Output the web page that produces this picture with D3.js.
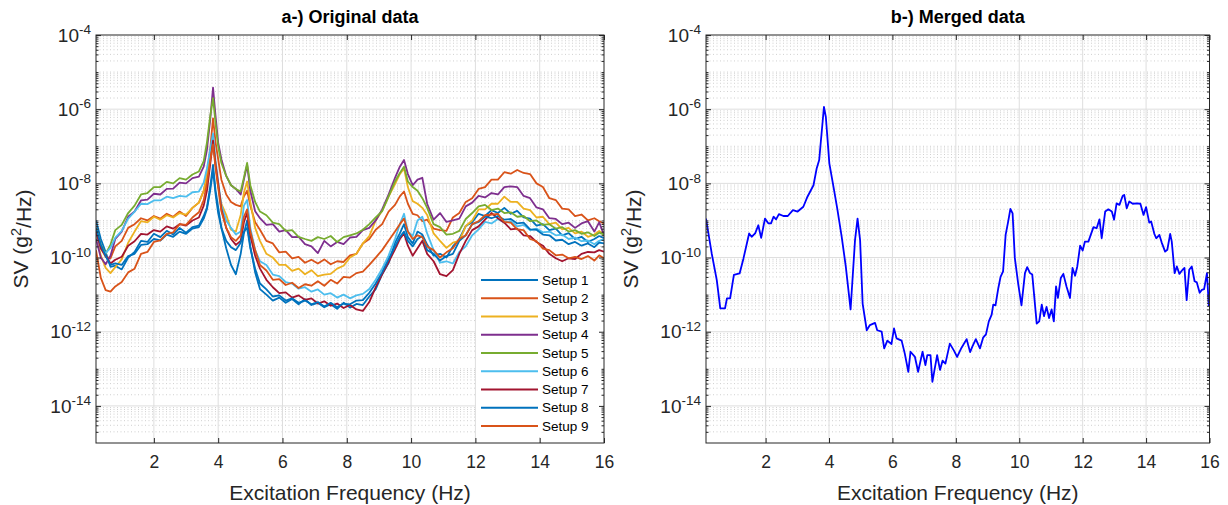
<!DOCTYPE html>
<html>
<head>
<meta charset="utf-8">
<script src="https://cdn.jsdelivr.net/npm/d3@7"></script>
<style>
  body { margin: 0; background: #fff; }
  svg { font-family: "Liberation Sans", Arial, Helvetica, sans-serif; }
  .grid-major { stroke: #dedede; stroke-width: 1; }
  .grid-minor { stroke: #c4c4c4; stroke-width: 0.8; stroke-dasharray: 1 2.5; }
  .ax path { display: none; }
  .ax line { stroke: #262626; }
  .ax text { fill: #262626; }
</style>
</head>
<body>
<svg id="chart" width="1228" height="505"></svg>
<script>
// frequency grid (Hz) shared by the nine setups
var freq = [0.2, 0.35, 0.5, 0.65, 0.8, 1.0, 1.2, 1.4, 1.6, 1.8,
            2.0, 2.2, 2.4, 2.6, 2.8, 3.0, 3.2, 3.4, 3.55, 3.65,
            3.75, 3.84, 3.92, 4.0, 4.1, 4.25, 4.4, 4.55, 4.7, 4.8,
            4.9, 5.0, 5.15, 5.3, 5.5, 5.7, 5.9, 6.1, 6.3, 6.5,
            6.7, 6.9, 7.1, 7.3, 7.5, 7.7, 7.9, 8.1, 8.3, 8.5,
            8.7, 8.9, 9.1, 9.3, 9.5, 9.65, 9.78, 9.9, 10.05, 10.2,
            10.35, 10.5, 10.7, 10.9, 11.1, 11.3, 11.5, 11.7, 11.9, 12.1,
            12.3, 12.5, 12.7, 12.9, 13.1, 13.3, 13.5, 13.7, 13.9, 14.1,
            14.3, 14.5, 14.7, 14.9, 15.1, 15.3, 15.5, 15.7, 15.85, 16.0];

// SV values as log10(g^2/Hz)
var setup1 = [-9.0, -9.5, -9.85, -10.25, -10.22, -10.32, -10.0, -9.85, -9.55, -9.58,
              -9.36, -9.45, -9.28, -9.38, -9.2, -9.33, -9.18, -9.14, -8.88, -8.65,
              -8.1, -7.5, -8.2, -8.65, -9.2, -9.75, -10.2, -10.45, -9.9, -9.35,
              -9.0, -9.7, -10.4, -10.85, -11.0, -11.16, -11.08, -11.22, -11.12, -11.26,
              -11.12, -11.28, -11.22, -11.34, -11.26, -11.38, -11.22, -11.35, -11.25, -11.28,
              -11.05, -10.85, -10.45, -10.15, -9.6, -9.35, -9.1, -9.45, -9.62, -9.3,
              -9.38, -9.65, -9.95, -9.9, -10.0, -9.7, -9.5, -9.15, -9.05, -8.82,
              -8.88, -8.72, -8.8, -8.66, -8.82, -8.74, -8.92, -8.95, -9.14, -9.1,
              -9.26, -9.22, -9.4, -9.34, -9.5, -9.44, -9.58, -9.5, -9.42, -9.48];
var setup2 = [-9.3, -9.75, -9.98, -10.02, -9.7, -9.55, -9.2, -9.1, -8.94, -9.0,
              -8.88, -8.95, -8.82, -8.9, -8.76, -8.88, -8.66, -8.52, -8.2, -7.8,
              -7.1, -6.25, -6.9, -7.35, -7.9, -8.3, -8.5, -8.58, -8.62, -8.35,
              -8.2, -8.6, -9.05, -9.25, -9.55, -9.62, -9.86, -9.84, -10.02, -9.98,
              -10.14, -10.06, -10.16, -10.05, -10.18, -10.1, -10.12, -9.94, -9.9, -9.62,
              -9.5, -9.25, -9.1, -8.76, -8.58, -8.35, -8.22, -8.55, -8.82, -8.86,
              -9.02, -8.98, -9.22, -9.26, -9.28, -8.92, -8.8, -8.5, -8.4, -8.15,
              -8.1, -7.9, -7.9, -7.7, -7.74, -7.64, -7.72, -7.75, -8.0, -8.1,
              -8.4, -8.45, -8.68, -8.7, -8.88, -8.84, -9.0, -8.94, -9.02, -9.08];
var setup3 = [-9.4, -9.95, -10.28, -10.42, -10.26, -10.05, -9.6, -9.3, -9.02, -9.05,
              -8.9, -8.98, -8.86, -8.92, -8.8, -8.84, -8.66, -8.52, -8.2, -7.8,
              -7.25, -6.8, -7.5, -8.1, -8.55, -8.85, -9.25, -9.3, -8.85, -8.25,
              -7.95, -8.5, -9.2, -9.55, -9.9, -10.0, -10.2, -10.2, -10.36, -10.3,
              -10.45, -10.34, -10.5, -10.46, -10.44, -10.3, -10.22, -10.0, -9.9, -9.62,
              -9.42, -9.0, -8.74, -8.36, -8.02, -7.75, -7.6, -8.1, -8.48, -8.55,
              -8.66, -8.85, -9.35, -9.55, -9.74, -9.6, -9.55, -9.15, -9.0, -8.7,
              -8.7, -8.55, -8.55, -8.36, -8.5, -8.5, -8.68, -8.72, -8.92, -8.9,
              -9.1, -9.06, -9.24, -9.2, -9.35, -9.3, -9.44, -9.38, -9.28, -9.38];
var setup4 = [-9.5, -10.0, -10.18, -9.95, -9.5, -9.3, -8.9, -8.76, -8.46, -8.44,
              -8.28, -8.3, -8.15, -8.14, -7.98, -8.0, -7.86, -7.82, -7.55, -7.1,
              -6.3, -5.42, -6.2, -6.9, -7.35, -7.8, -8.05, -8.15, -8.3, -7.9,
              -7.5, -8.2, -8.75, -8.94, -9.12, -9.1, -9.3, -9.26, -9.45, -9.44,
              -9.64, -9.7, -9.88, -9.55, -9.7, -9.58, -9.64, -9.46, -9.44, -9.26,
              -9.2, -9.0, -8.7, -8.3, -7.85, -7.55, -7.37, -7.75, -8.05, -7.9,
              -7.85, -8.55, -8.98, -8.8, -9.04, -9.0, -8.95, -8.62, -8.52, -8.34,
              -8.38, -8.26, -8.3, -8.1, -8.08, -8.1, -8.34, -8.4, -8.65, -8.7,
              -8.94, -8.96, -9.1, -9.06, -9.2, -9.08, -9.02, -9.3, -9.05, -9.4];
var setup5 = [-9.2, -9.65, -9.9, -9.65, -9.26, -9.12, -8.8, -8.6, -8.3, -8.26,
              -8.1, -8.1, -7.96, -8.0, -7.86, -7.9, -7.76, -7.68, -7.4, -6.9,
              -6.2, -5.7, -6.4, -7.0, -7.45, -7.8, -8.05, -8.15, -8.22, -7.85,
              -7.45, -8.05, -8.5, -8.76, -8.86, -9.06, -9.1, -9.28, -9.26, -9.44,
              -9.5, -9.55, -9.45, -9.5, -9.42, -9.58, -9.45, -9.4, -9.35, -9.25,
              -9.1, -8.92, -8.75, -8.35, -7.95, -7.72, -7.55, -7.95, -8.1, -8.2,
              -8.4, -8.66, -9.1, -9.18, -9.38, -9.36, -9.28, -8.96, -8.8, -8.62,
              -8.58, -8.72, -8.68, -8.8, -8.78, -8.9, -8.88, -9.02, -9.0, -9.12,
              -9.1, -9.22, -9.18, -9.3, -9.26, -9.36, -9.32, -9.42, -9.33, -9.38];
var setup6 = [-9.35, -9.75, -9.88, -9.74, -9.46, -9.28, -8.95, -8.76, -8.55, -8.56,
              -8.46, -8.46, -8.36, -8.4, -8.34, -8.36, -8.24, -8.22, -7.98, -7.6,
              -7.1, -6.65, -7.4, -7.95, -8.6, -9.0, -9.2, -9.38, -9.3, -8.6,
              -8.45, -9.2, -9.8, -10.1, -10.2, -10.46, -10.5, -10.66, -10.7, -10.84,
              -10.8, -10.92, -10.86, -11.0, -10.96, -11.08, -11.0, -11.1, -11.02, -10.98,
              -10.85, -10.6, -10.3, -9.95, -9.5, -9.1, -8.82, -9.3, -9.42, -9.0,
              -8.9, -9.35, -9.8, -10.14, -10.1, -10.16, -9.85, -9.7, -9.4, -9.24,
              -9.04, -9.08, -8.96, -9.06, -9.02, -9.16, -9.12, -9.26, -9.22, -9.32,
              -9.3, -9.4, -9.38, -9.5, -9.46, -9.56, -9.54, -9.64, -9.55, -9.5];
var setup7 = [-9.3, -9.75, -9.95, -10.16, -10.06, -9.98, -9.68, -9.56, -9.36, -9.38,
              -9.26, -9.3, -9.16, -9.22, -9.1, -9.14, -9.0, -8.92, -8.6, -8.2,
              -7.5, -6.85, -7.5, -8.0, -8.7, -9.2, -9.5, -9.66, -9.55, -9.05,
              -8.8, -9.4, -9.95, -10.3, -10.6, -10.8, -10.96, -10.94, -11.08, -11.02,
              -11.14, -11.1, -11.24, -11.18, -11.3, -11.24, -11.36, -11.28, -11.4, -11.44,
              -11.2, -10.8, -10.45, -10.12, -9.78, -9.5, -9.35, -9.68, -9.95, -9.75,
              -9.55, -9.9, -10.1, -10.45, -10.5, -10.34, -9.9, -9.55, -9.26, -9.16,
              -8.98, -8.8, -8.94, -9.06, -9.24, -9.22, -9.4, -9.42, -9.58, -9.68,
              -9.9, -10.02, -10.1, -10.02, -10.04, -9.9, -9.85, -9.86, -9.8, -9.84];
var setup8 = [-9.2, -9.65, -9.96, -10.2, -10.16, -10.2, -9.96, -9.9, -9.66, -9.64,
              -9.5, -9.54, -9.38, -9.44, -9.3, -9.36, -9.22, -9.18, -8.95, -8.7,
              -8.2, -7.65, -8.3, -8.8, -9.2, -9.55, -9.72, -9.8, -9.6, -9.3,
              -9.2, -9.75, -10.3, -10.7, -10.86, -11.05, -11.02, -11.16, -11.1, -11.22,
              -11.16, -11.26, -11.2, -11.32, -11.22, -11.34, -11.24, -11.26, -11.16, -11.15,
              -10.95, -10.7, -10.4, -10.05, -9.7, -9.45, -9.3, -9.55, -9.7, -9.5,
              -9.42, -9.8, -9.9, -10.08, -9.96, -9.9, -9.55, -9.4, -9.1, -9.04,
              -8.9, -8.94, -8.88, -8.98, -8.96, -9.08, -9.06, -9.24, -9.25, -9.38,
              -9.4, -9.54, -9.52, -9.64, -9.58, -9.68, -9.62, -9.72, -9.6, -9.62];
var setup9 = [-9.8, -10.55, -10.88, -10.92, -10.78, -10.66, -10.4, -10.3, -9.9, -9.85,
              -9.58, -9.54, -9.36, -9.32, -9.1, -9.12, -8.92, -8.78, -8.45, -8.0,
              -7.4, -6.95, -7.6, -8.1, -8.75, -9.2, -9.45, -9.55, -9.4, -8.9,
              -8.7, -9.3, -9.8, -10.2, -10.35, -10.6, -10.58, -10.74, -10.68, -10.82,
              -10.72, -10.76, -10.64, -10.76, -10.6, -10.7, -10.52, -10.54, -10.42, -10.38,
              -10.2, -10.0, -9.8, -9.55, -9.3, -9.1, -8.95, -9.3, -9.5, -9.4,
              -9.45, -9.7, -9.8, -10.0, -9.86, -9.75, -9.5, -9.4, -9.1, -9.02,
              -8.86, -8.84, -8.82, -9.04, -9.06, -9.24, -9.26, -9.5, -9.56, -9.76,
              -9.8, -9.94, -9.92, -10.02, -9.98, -10.04, -9.96, -10.08, -9.94, -10.02];

var setupNames = ["Setup 1", "Setup 2", "Setup 3", "Setup 4", "Setup 5",
                  "Setup 6", "Setup 7", "Setup 8", "Setup 9"];
var setupColors = ["#0072BD", "#D95319", "#EDB120", "#7E2F8E", "#77AC30",
                   "#4DBEEE", "#A2142F", "#0072BD", "#D95319"];

// merged spectrum
var mergedFreq = [0.12, 0.30, 0.46, 0.57, 0.72, 0.78, 0.88, 1.0, 1.18, 1.30,
  1.48, 1.56, 1.67, 1.77, 1.86, 1.98, 2.09, 2.17, 2.25, 2.33,
  2.42, 2.56, 2.70, 2.86, 3.01, 3.19, 3.32, 3.51, 3.61, 3.69,
  3.84, 3.90, 4.01, 4.14, 4.26, 4.40, 4.53, 4.68, 4.82, 4.90,
  4.98, 5.06, 5.19, 5.29, 5.45, 5.52, 5.66, 5.74, 5.84, 5.97,
  6.05, 6.13, 6.29, 6.39, 6.50, 6.57, 6.71, 6.81, 6.95, 7.04,
  7.10, 7.20, 7.26, 7.41, 7.50, 7.58, 7.67, 7.81, 7.94, 8.04,
  8.18, 8.34, 8.45, 8.52, 8.63, 8.76, 8.86, 8.95, 9.04, 9.13,
  9.18, 9.25, 9.34, 9.41, 9.49, 9.57, 9.65, 9.72, 9.79, 9.86,
  9.97, 10.07, 10.18, 10.25, 10.34, 10.41, 10.55, 10.63, 10.71, 10.78,
  10.86, 10.94, 11.02, 11.09, 11.16, 11.22, 11.31, 11.39, 11.49, 11.6,
  11.68, 11.76, 11.83, 11.92, 12.0, 12.07, 12.18, 12.34, 12.44, 12.53,
  12.6, 12.71, 12.81, 12.92, 12.99, 13.07, 13.16, 13.26, 13.31, 13.39,
  13.47, 13.58, 13.71, 13.82, 13.92, 14.0, 14.1, 14.16, 14.26, 14.32,
  14.42, 14.49, 14.6, 14.67, 14.76, 14.81, 14.9, 14.97, 15.05, 15.15,
  15.21, 15.28, 15.36, 15.44, 15.53, 15.6, 15.69, 15.76, 15.83, 15.92, 15.98];
var mergedLogSV = [-8.95, -9.89, -10.61, -11.37, -11.37, -11.1, -11.1, -10.47, -10.43, -10.03,
  -9.35, -9.44, -9.35, -9.13, -9.47, -8.95, -9.08, -9.08, -8.9, -8.97,
  -8.83, -8.88, -8.88, -8.72, -8.76, -8.63, -8.36, -8.05, -7.6, -7.37,
  -5.94, -6.21, -7.46, -8.09, -8.68, -9.44, -10.25, -11.4, -9.53, -8.95,
  -9.53, -11.24, -11.96, -11.82, -11.76, -11.96, -12.0, -12.45, -12.24, -12.33,
  -11.91, -12.18, -12.24, -12.59, -13.08, -12.54, -12.68, -13.08, -12.54, -12.9,
  -12.63, -12.63, -13.35, -12.63, -13.03, -12.78, -12.86, -12.32, -12.51, -12.68,
  -12.43, -12.2, -12.55, -12.4, -12.2, -12.45, -12.16, -12.07, -11.72, -11.54,
  -11.27, -11.29, -10.82, -10.52, -10.37, -9.39, -9.03, -8.69, -8.81, -10.01,
  -10.73, -11.29, -10.42, -10.26, -10.42, -10.46, -11.78, -11.72, -11.27, -11.58,
  -11.33, -11.63, -11.4, -11.72, -10.78, -11.09, -10.55, -10.44, -10.78, -11.09,
  -10.28, -10.49, -10.24, -9.68, -9.81, -9.57, -9.57, -9.18, -9.21, -8.97,
  -9.48, -8.76, -8.7, -8.76, -8.98, -8.54, -8.58, -8.34, -8.31, -8.67,
  -8.49, -8.55, -8.54, -8.55, -8.85, -8.64, -9.06, -9.03, -9.36, -9.48,
  -9.39, -9.59, -9.84, -9.79, -9.36, -9.57, -10.42, -10.24, -10.44, -10.33,
  -10.28, -11.15, -10.33, -10.24, -10.64, -10.67, -10.95, -10.87, -10.85, -10.42, -11.31];

var xTicks = [2, 4, 6, 8, 10, 12, 14, 16];
var yTickExp = [-14, -12, -10, -8, -6, -4];

var svg = d3.select("#chart");
var T = 35, B = 443;

function drawPanel(opt) {
  var x = d3.scaleLinear().domain(opt.xDomain).range([opt.left, opt.right]);
  var y = d3.scaleLog().domain([1e-15, 1e-4]).range([B, T]);
  var g = svg.append("g");

  var yMajor = yTickExp.map(function(e) { return Math.pow(10, e); });
  var yMinor = [];
  for (var e = -15; e < -4; e++) {
    for (var k = 1; k < 10; k++) {
      if (k == 1 && (e % 2 == 0 || e == -15)) continue;
      yMinor.push(k * Math.pow(10, e));
    }
  }

  // grid
  g.selectAll(".gmin").data(yMinor).enter().append("line")
    .attr("class", "grid-minor")
    .attr("x1", opt.left).attr("x2", opt.right)
    .attr("y1", function(d) { return y(d); }).attr("y2", function(d) { return y(d); });
  g.selectAll(".gmx").data(xTicks.slice(0, -1)).enter().append("line")
    .attr("class", "grid-major")
    .attr("x1", function(d) { return x(d); }).attr("x2", function(d) { return x(d); })
    .attr("y1", T).attr("y2", B);
  g.selectAll(".gmy").data(yMajor.slice(0, -1)).enter().append("line")
    .attr("class", "grid-major")
    .attr("x1", opt.left).attr("x2", opt.right)
    .attr("y1", function(d) { return y(d); }).attr("y2", function(d) { return y(d); });

  // curves
  var clipId = "clip" + opt.left;
  svg.append("clipPath").attr("id", clipId).append("rect")
    .attr("x", opt.left).attr("y", T).attr("width", opt.right - opt.left).attr("height", B - T);
  var line = d3.line()
    .x(function(d) { return x(d[0]); })
    .y(function(d) { return y(Math.pow(10, d[1])); });
  var lines = g.append("g").attr("clip-path", "url(#" + clipId + ")");
  opt.series.forEach(function(s) {
    lines.append("path")
      .attr("d", line(s.f.map(function(f, i) { return [f, s.v[i]]; })))
      .attr("fill", "none").attr("stroke", s.color)
      .attr("stroke-width", 1.8).attr("stroke-linejoin", "round");
  });

  // legend
  if (opt.legend) {
    var lg = g.append("g");
    lg.append("rect").attr("x", 476).attr("y", 270).attr("width", 127).attr("height", 167)
      .attr("fill", "#fff");
    opt.series.forEach(function(s, i) {
      var yy = 280 + i * 18.25;
      lg.append("line").attr("x1", 481).attr("x2", 538).attr("y1", yy).attr("y2", yy)
        .attr("stroke", s.color).attr("stroke-width", 1.8);
      lg.append("text").attr("x", 542).attr("y", yy).attr("dy", "0.35em")
        .attr("font-size", 13.5).attr("fill", "#000").text(s.name);
    });
  }

  // axes
  var ax = g.append("g").attr("class", "ax");
  ax.append("g").attr("transform", "translate(0," + B + ")")
    .call(d3.axisBottom(x).tickValues(xTicks).tickSizeInner(-5).tickSizeOuter(0).tickPadding(13))
    .selectAll("text").attr("font-size", 17.5);
  ax.append("g").attr("transform", "translate(0," + T + ")")
    .call(d3.axisTop(x).tickValues(xTicks).tickSizeInner(-5).tickSizeOuter(0).tickFormat(""));
  var yl = ax.append("g").attr("transform", "translate(" + opt.left + ",0)")
    .call(d3.axisLeft(y).tickValues(yMajor).tickSizeInner(-5).tickSizeOuter(0).tickPadding(5));
  yl.selectAll("text").attr("font-size", 19).each(function(d) {
    var t = d3.select(this);
    t.text(null);
    t.append("tspan").text("10");
    t.append("tspan").attr("dy", "-0.55em").attr("font-size", 13.5)
      .text(Math.round(Math.log10(d)));
  });
  ax.append("g").attr("transform", "translate(" + opt.left + ",0)")
    .call(d3.axisLeft(y).tickValues(yMinor).tickSizeInner(-2.5).tickSizeOuter(0).tickFormat(""));
  ax.append("g").attr("transform", "translate(" + opt.right + ",0)")
    .call(d3.axisRight(y).tickValues(yMajor).tickSizeInner(-5).tickSizeOuter(0).tickFormat(""));
  ax.append("g").attr("transform", "translate(" + opt.right + ",0)")
    .call(d3.axisRight(y).tickValues(yMinor).tickSizeInner(-2.5).tickSizeOuter(0).tickFormat(""));
  ax.append("rect").attr("x", opt.left).attr("y", T)
    .attr("width", opt.right - opt.left).attr("height", B - T)
    .attr("fill", "none").attr("stroke", "#262626").attr("stroke-width", 1);

  // labels
  var cx = (opt.left + opt.right) / 2;
  g.append("text").attr("x", cx).attr("y", 23).attr("text-anchor", "middle")
    .attr("font-size", 18).attr("font-weight", "bold").attr("fill", "#000").text(opt.title);
  g.append("text").attr("x", cx).attr("y", 500).attr("text-anchor", "middle")
    .attr("font-size", 21).attr("fill", "#262626").text("Excitation Frequency (Hz)");
  var ylab = g.append("text")
    .attr("transform", "translate(" + (opt.left - 68) + "," + ((T + B) / 2) + ") rotate(-90)")
    .attr("text-anchor", "middle").attr("font-size", 21).attr("fill", "#262626");
  ylab.append("tspan").text("SV (g");
  ylab.append("tspan").attr("dy", "-0.5em").attr("font-size", 14.5).text("2");
  ylab.append("tspan").attr("dy", "0.5em").text("/Hz)");
}

var setups = [setup1, setup2, setup3, setup4, setup5, setup6, setup7, setup8, setup9]
  .map(function(v, i) { return { name: setupNames[i], color: setupColors[i], f: freq, v: v }; });

drawPanel({ left: 96, right: 604, xDomain: [0.2, 16], series: setups, legend: true,
            title: "a-) Original data" });
drawPanel({ left: 706, right: 1209.5, xDomain: [0.12, 16],
            series: [{ name: "Merged", color: "#0000FF", f: mergedFreq, v: mergedLogSV }],
            legend: false, title: "b-) Merged data" });
</script>
</body>
</html>
